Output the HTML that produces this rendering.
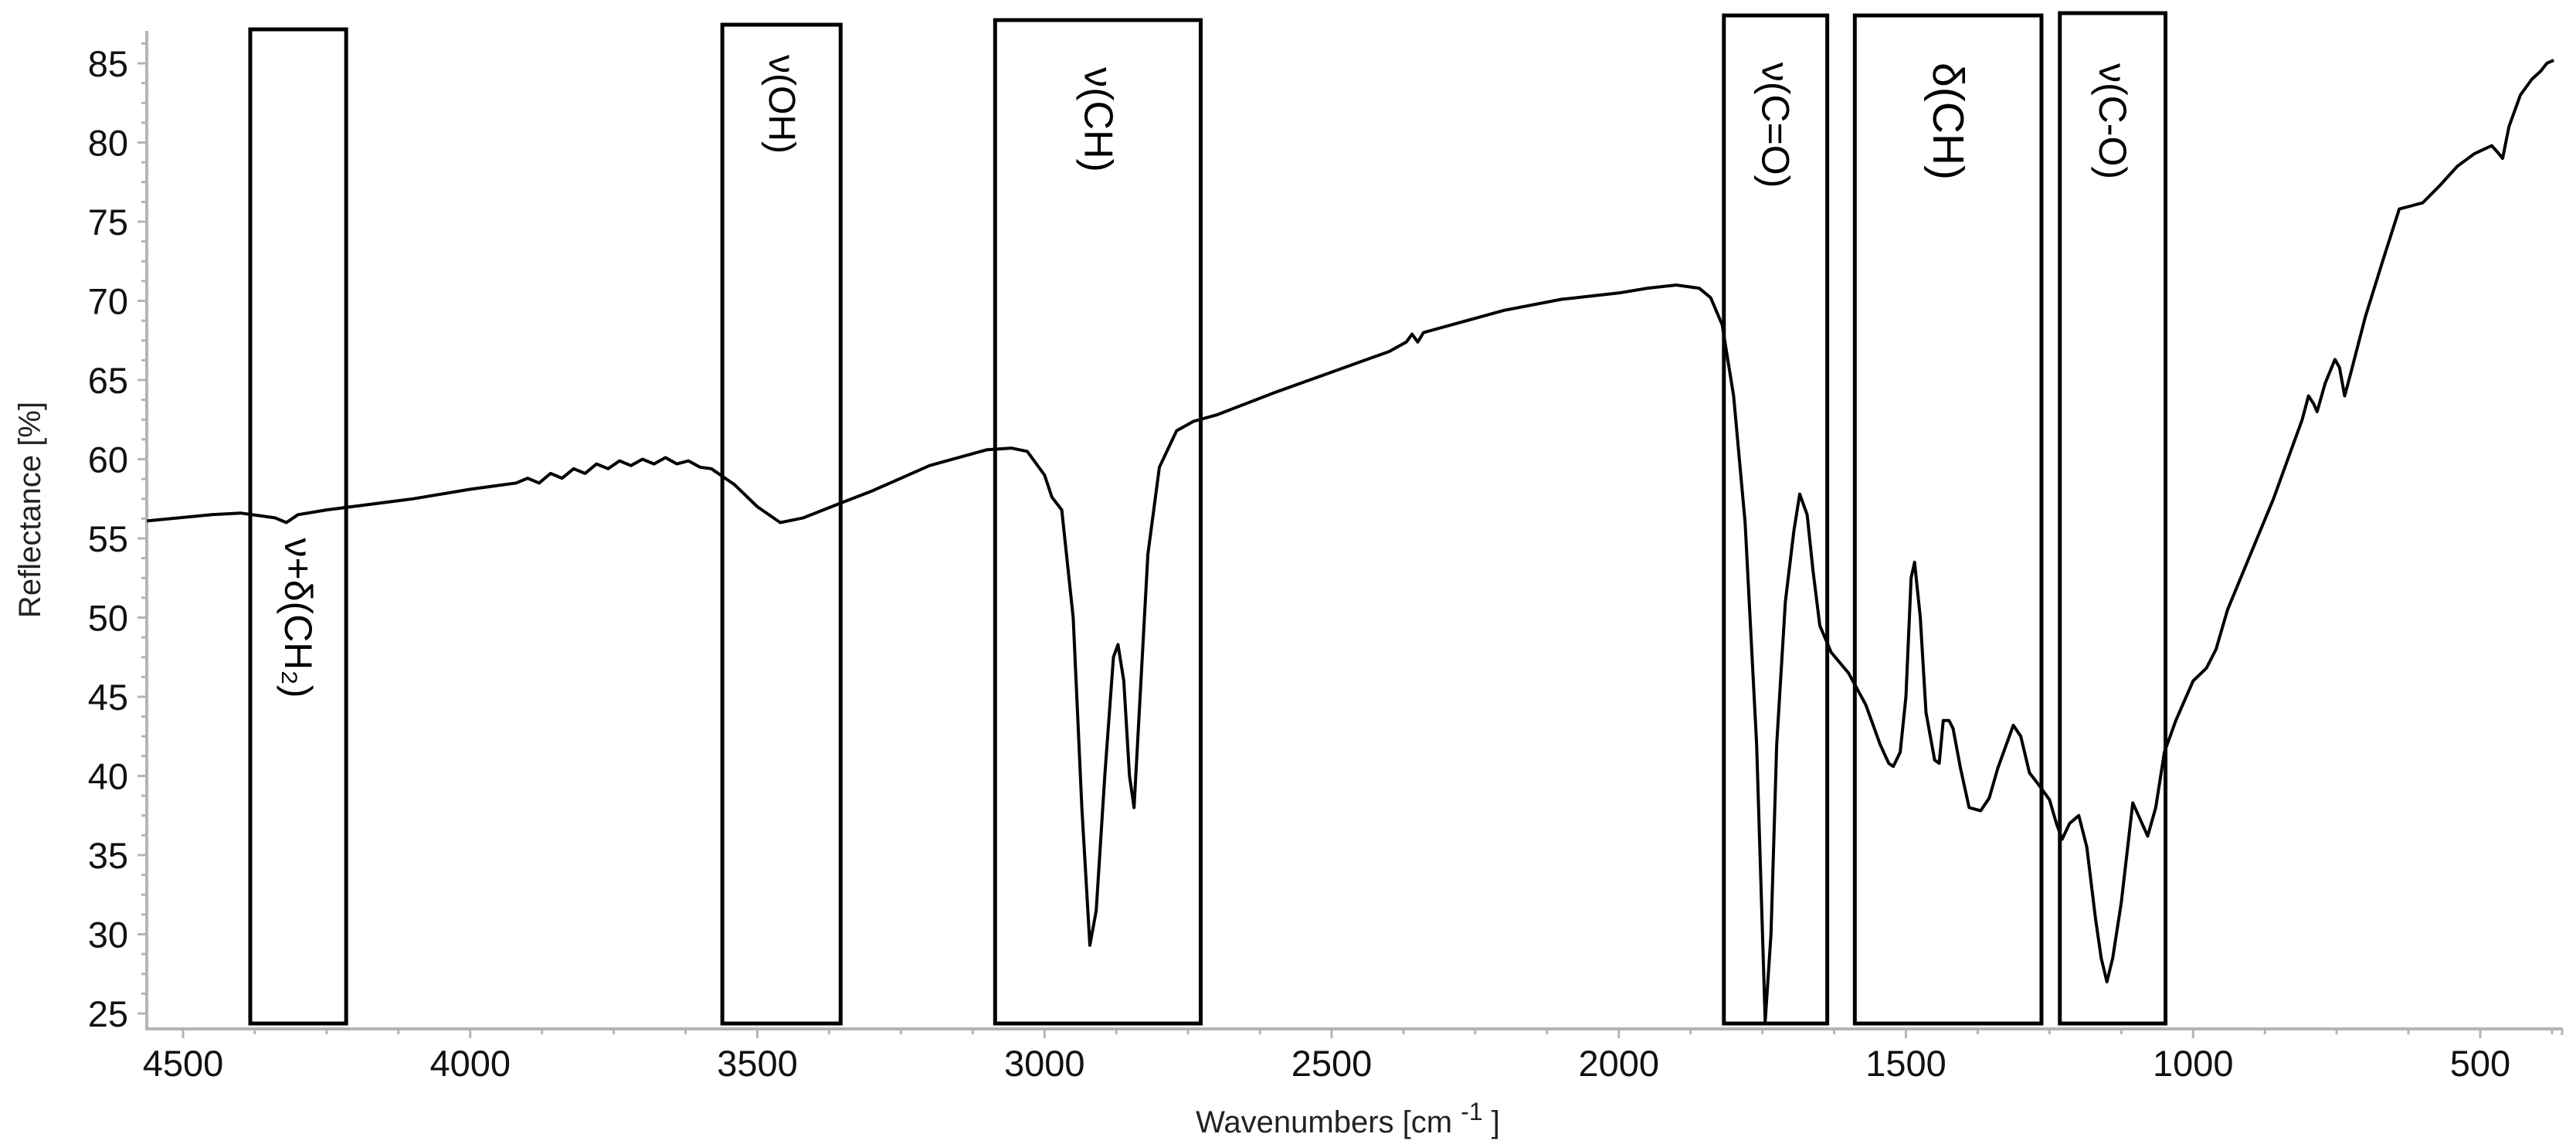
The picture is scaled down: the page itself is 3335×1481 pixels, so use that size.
<!DOCTYPE html>
<html><head><meta charset="utf-8"><style>
html,body{margin:0;padding:0;background:#fff;}
svg{display:block;font-family:"Liberation Sans",sans-serif;}
</style></head><body>
<svg id="chart" width="3335" height="1481" viewBox="0 0 3335 1481" xmlns="http://www.w3.org/2000/svg">
<g id="axes"></g>
<g id="boxes"></g>
<path id="curve" fill="none" stroke="#000" stroke-width="4" stroke-linejoin="round"/>
<text x="0" y="0" transform="translate(52,660) rotate(-90)" font-size="40" text-anchor="middle" fill="#222">Reflectance [%]</text>
<text x="1745" y="1466" font-size="40" text-anchor="middle" fill="#222">Wavenumbers [cm <tspan dy="-16" font-size="32">-1</tspan><tspan dy="16"> ]</tspan></text>
</svg>
<script>
const wavenumbers=[4563,4450,4400,4340,4320,4300,4250,4100,4000,3920,3900,3880,3860,3840,3820,3800,3780,3760,3740,3720,3700,3680,3660,3640,3620,3600,3580,3560,3540,3500,3460,3420,3350,3300,3200,3100,3058,3030,3000,2987,2970,2950,2935,2921,2910,2895,2880,2872,2862,2852,2844,2835,2820,2800,2770,2740,2700,2600,2500,2400,2370,2360,2350,2340,2300,2200,2100,2000,1950,1900,1860,1840,1820,1800,1780,1760,1745,1735,1725,1710,1695,1685,1680,1672,1662,1650,1630,1600,1570,1545,1530,1522,1510,1500,1491,1485,1475,1465,1450,1442,1435,1425,1418,1405,1390,1370,1355,1340,1313,1300,1285,1270,1250,1238,1228,1215,1199,1185,1170,1160,1150,1140,1125,1105,1095,1079,1065,1050,1030,1000,977,960,940,900,860,830,810,799,790,784,770,753,745,736,725,700,670,641,620,600,570,540,510,480,470,461,450,430,410,395,384,372];
const reflectance=[56.1,56.5,56.6,56.3,56.0,56.5,56.8,57.5,58.1,58.5,58.8,58.5,59.1,58.8,59.4,59.1,59.7,59.4,59.9,59.6,60.0,59.7,60.1,59.7,59.9,59.5,59.4,58.9,58.4,57.0,56.0,56.3,57.3,58.0,59.6,60.6,60.7,60.5,59.0,57.6,56.8,50.0,38.0,29.3,31.5,40.0,47.5,48.3,46.0,40.0,38.0,44.0,54.0,59.5,61.8,62.4,62.8,64.2,65.5,66.8,67.4,67.9,67.4,68.0,68.4,69.4,70.1,70.5,70.8,71.0,70.8,70.2,68.5,64.0,56.0,42.0,24.5,30.0,42.0,51.0,55.5,57.8,57.3,56.5,53.0,49.5,47.8,46.5,44.5,42.0,40.8,40.6,41.5,45.0,52.5,53.5,50.0,44.0,41.0,40.8,43.5,43.5,43.0,40.5,38.0,37.8,38.6,40.5,43.2,42.5,40.2,39.5,38.5,37.0,36.0,37.0,37.5,35.5,31.0,28.5,27.0,28.5,32.0,38.3,37.5,36.2,38.0,41.5,43.5,46.0,46.8,48.0,50.5,54.0,57.5,60.5,62.5,64.0,63.5,63.0,64.8,66.3,65.8,64.0,65.5,69.0,72.5,75.8,76.0,76.2,77.3,78.5,79.3,79.8,79.4,79.0,81.0,83.0,84.0,84.5,85.0,85.2];
const yTicks=[25,30,35,40,45,50,55,60,65,70,75,80,85];
const xTicks=[4500,4000,3500,3000,2500,2000,1500,1000,500];
const bandLabels=["ν+δ(CH₂)","ν(OH)","ν(CH)","ν(C=O)","δ(CH)","ν(C-O)"];
const bandStart=[4383,3561,3086,1817,1589,1232];
const bandEnd=[4216,3355,2728,1637,1264,1048];

const NS="http://www.w3.org/2000/svg";
const X=w=>237+(4500-w)*0.7435;
const Y=v=>1312-(v-25)*20.5;
const axes=document.getElementById('axes');
function mk(tag,attrs,parent){const e=document.createElementNS(NS,tag);for(const k in attrs)e.setAttribute(k,attrs[k]);parent.appendChild(e);return e;}
let a=mk('line',{x1:190,y1:40,x2:190,y2:1332,stroke:'#b4b4b4','stroke-width':4},axes);


a=mk('line',{x1:188,y1:1332,x2:3318,y2:1332,stroke:'#b4b4b4','stroke-width':4},axes);


for(let v=23.75;v<=87;v+=1.25){const major=Math.abs(v/5-Math.round(v/5))<1e-6;
 if(Y(v)>1332||Y(v)<40)continue;
 const t=mk('line',{x1:major?178:183,y1:Y(v),x2:190,y2:Y(v),stroke:'#b4b4b4','stroke-width':3},axes);
 
 }
yTicks.forEach(v=>{const t=mk('text',{x:166,y:Y(v)+17,'font-size':47,'text-anchor':'end',fill:'#111'},axes);t.textContent=v;
 
 });
for(let w=4500+125;w>=370;w-=125){if(X(w)<190||X(w)>3318)continue;const major=w%500===0;
 const t=mk('line',{x1:X(w),y1:1332,x2:X(w),y2:major?1344:1339,stroke:'#b4b4b4','stroke-width':3},axes);
 
 }
mk('line',{x1:3317,y1:1332,x2:3317,y2:1340,stroke:'#b4b4b4','stroke-width':3},axes);
xTicks.forEach(w=>{const t=mk('text',{x:X(w),y:1393,'font-size':47,'text-anchor':'middle',fill:'#111'},axes);t.textContent=w;
 
 });
const boxes=document.getElementById('boxes');
const tops=[38,32,26,20,20,17];
const labelY=[800,135,155,162,157,157];
const fs=[50,48,52,50,57,50];
bandLabels.forEach((lab,i)=>{const x1=X(bandStart[i]),x2=X(bandEnd[i]);
 const r=mk('rect',{x:x1,y:tops[i],width:x2-x1,height:1325-tops[i],fill:'none',stroke:'#000','stroke-width':5},boxes);
 
 
 const cx=(x1+x2)/2;
 const t=mk('text',{x:0,y:0,transform:`translate(${cx},${labelY[i]}) rotate(90)`,'font-size':fs[i],'text-anchor':'middle','dominant-baseline':'central',fill:'#000'},boxes);
 t.textContent=lab;
 
 });
let d='';wavenumbers.forEach((w,i)=>{d+=(i?'L':'M')+X(w).toFixed(1)+','+Y(reflectance[i]).toFixed(1);});
document.getElementById('curve').setAttribute('d',d);
</script>
</body></html>
